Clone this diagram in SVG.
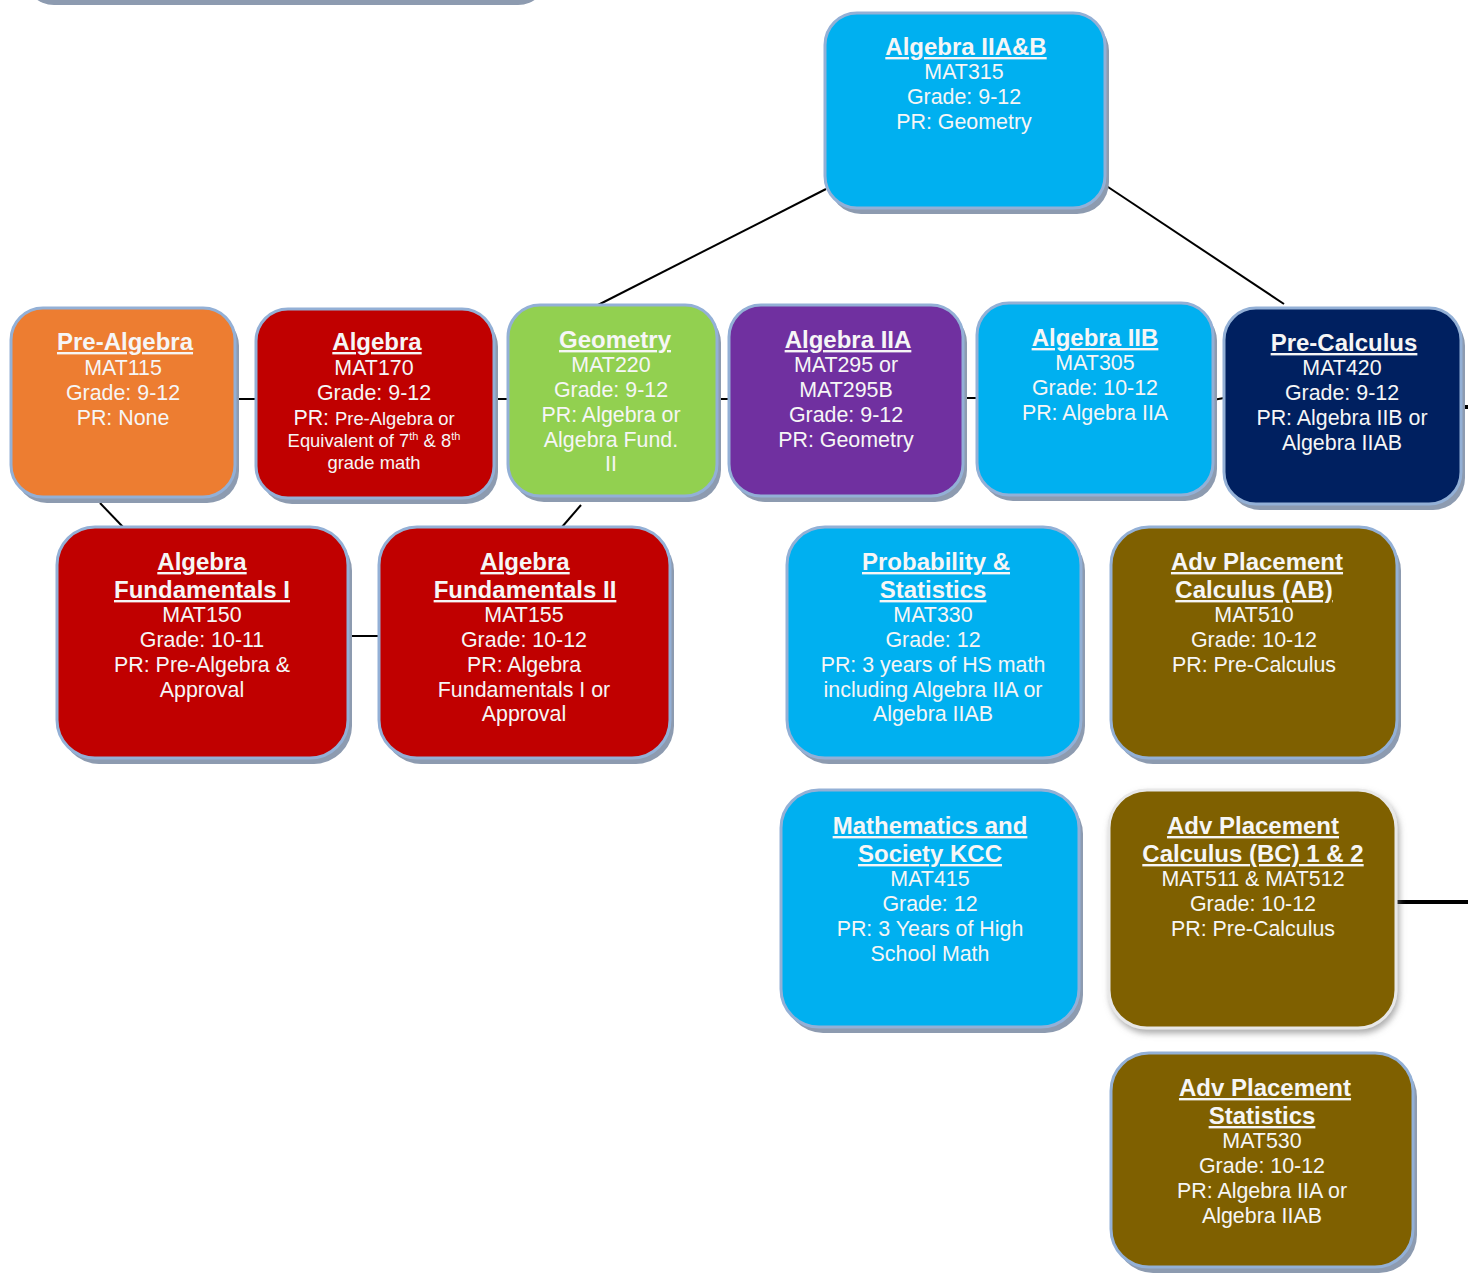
<svg xmlns="http://www.w3.org/2000/svg" width="1468" height="1273" viewBox="0 0 1468 1273">
<style>
text{font-family:"Liberation Sans",Arial,sans-serif;fill:#f6f6f6;text-anchor:middle}
.t{font-size:24px;font-weight:bold;text-decoration:underline}
.b{font-size:21.4px}
.s{font-size:18.4px}
.sh{fill:#8d9bb0}
.bx{stroke:#93b0d6;stroke-width:3}
.orange{fill:#ed7d31}.red{fill:#c00000}.green{fill:#92d050}.purple{fill:#7030a0}.cyan{fill:#00b0f0}.navy{fill:#002060}.olive{fill:#7f6000}
.ln{stroke:#000;stroke-width:2;fill:none}
.lnb{stroke:#000;stroke-width:4;fill:none}
</style>
<defs>
<filter id="soft" x="-10%" y="-10%" width="125%" height="125%">
<feDropShadow dx="2" dy="4" stdDeviation="3" flood-color="#777" flood-opacity="0.6"/>
</filter>
</defs>
<rect width="1468" height="1273" fill="#ffffff"/>

<g id="connectors">
<line class="ln" x1="826" y1="189" x2="596" y2="306"/>
<line class="ln" x1="1105" y1="185" x2="1284" y2="304"/>
<line class="ln" x1="235" y1="399" x2="256" y2="399"/>
<line class="ln" x1="494" y1="399" x2="508" y2="399"/>
<line class="ln" x1="717" y1="399" x2="729" y2="399"/>
<line class="ln" x1="963" y1="398" x2="977" y2="398"/>
<line class="ln" x1="1213" y1="400" x2="1224" y2="398"/>
<line class="lnb" x1="1461" y1="407" x2="1468" y2="407"/>
<line class="ln" x1="100" y1="503" x2="123" y2="527"/>
<line class="ln" x1="581" y1="505" x2="562" y2="527"/>
<line class="ln" x1="348" y1="636" x2="379" y2="636"/>
<line class="lnb" x1="1393" y1="902" x2="1468" y2="902"/>
</g>

<g id="partial-top">
<rect class="sh" x="24" y="-200" width="524" height="205" rx="30"/>
</g>

<g id="algebra-iiab">
<rect class="sh" x="829" y="19" width="280" height="195" rx="32"/>
<rect class="bx cyan" x="825" y="13" width="280" height="195" rx="32"/>
<text class="t" x="966" y="55">Algebra IIA&amp;B</text>
<text class="b" x="964" y="79">MAT315</text>
<text class="b" x="964" y="104">Grade: 9-12</text>
<text class="b" x="964" y="129">PR: Geometry</text>
</g>

<g id="pre-algebra">
<rect class="sh" x="15" y="314" width="224" height="189" rx="32"/>
<rect class="bx orange" x="11" y="308" width="224" height="189" rx="32"/>
<text class="t" x="125" y="350">Pre-Algebra</text>
<text class="b" x="123" y="375">MAT115</text>
<text class="b" x="123" y="400">Grade: 9-12</text>
<text class="b" x="123" y="425">PR: None</text>
</g>

<g id="algebra">
<rect class="sh" x="260" y="315" width="238" height="189" rx="32"/>
<rect class="bx red" x="256" y="309" width="238" height="189" rx="32"/>
<text class="t" x="377" y="350">Algebra</text>
<text class="b" x="374" y="375">MAT170</text>
<text class="b" x="374" y="400">Grade: 9-12</text>
<text x="374" y="425"><tspan class="b">PR: </tspan><tspan class="s">Pre-Algebra or</tspan></text>
<text class="s" x="374" y="447">Equivalent of 7<tspan font-size="11" dy="-7">th</tspan><tspan dy="7"> &amp; 8</tspan><tspan font-size="11" dy="-7">th</tspan></text>
<text class="s" x="374" y="469">grade math</text>
</g>

<g id="geometry">
<rect class="sh" x="512" y="311" width="209" height="191" rx="32"/>
<rect class="bx green" x="508" y="305" width="209" height="191" rx="32"/>
<text class="t" x="615" y="348">Geometry</text>
<text class="b" x="611" y="372">MAT220</text>
<text class="b" x="611" y="397">Grade: 9-12</text>
<text class="b" x="611" y="422">PR: Algebra or</text>
<text class="b" x="611" y="447">Algebra Fund.</text>
<text class="b" x="611" y="471">II</text>
</g>

<g id="algebra-iia">
<rect class="sh" x="733" y="311" width="234" height="191" rx="32"/>
<rect class="bx purple" x="729" y="305" width="234" height="191" rx="32"/>
<text class="t" x="848" y="348">Algebra IIA</text>
<text class="b" x="846" y="372">MAT295 or</text>
<text class="b" x="846" y="397">MAT295B</text>
<text class="b" x="846" y="422">Grade: 9-12</text>
<text class="b" x="846" y="447">PR: Geometry</text>
</g>

<g id="algebra-iib">
<rect class="sh" x="981" y="309" width="236" height="192" rx="32"/>
<rect class="bx cyan" x="977" y="303" width="236" height="192" rx="32"/>
<text class="t" x="1095" y="346">Algebra IIB</text>
<text class="b" x="1095" y="370">MAT305</text>
<text class="b" x="1095" y="395">Grade: 10-12</text>
<text class="b" x="1095" y="420">PR: Algebra IIA</text>
</g>

<g id="pre-calculus">
<rect class="sh" x="1228" y="314" width="237" height="196" rx="32"/>
<rect class="bx navy" x="1224" y="308" width="237" height="196" rx="32"/>
<text class="t" x="1344" y="351">Pre-Calculus</text>
<text class="b" x="1342" y="375">MAT420</text>
<text class="b" x="1342" y="400">Grade: 9-12</text>
<text class="b" x="1342" y="425">PR: Algebra IIB or</text>
<text class="b" x="1342" y="450">Algebra IIAB</text>
</g>

<g id="algebra-fund-i">
<rect class="sh" x="61" y="533" width="291" height="231" rx="38"/>
<rect class="bx red" x="57" y="527" width="291" height="231" rx="38"/>
<text class="t" x="202" y="570">Algebra</text>
<text class="t" x="202" y="598">Fundamentals I</text>
<text class="b" x="202" y="622">MAT150</text>
<text class="b" x="202" y="647">Grade: 10-11</text>
<text class="b" x="202" y="672">PR: Pre-Algebra &amp;</text>
<text class="b" x="202" y="697">Approval</text>
</g>

<g id="algebra-fund-ii">
<rect class="sh" x="383" y="533" width="291" height="231" rx="38"/>
<rect class="bx red" x="379" y="527" width="291" height="231" rx="38"/>
<text class="t" x="525" y="570">Algebra</text>
<text class="t" x="525" y="598">Fundamentals II</text>
<text class="b" x="524" y="622">MAT155</text>
<text class="b" x="524" y="647">Grade: 10-12</text>
<text class="b" x="524" y="672">PR: Algebra</text>
<text class="b" x="524" y="697">Fundamentals I or</text>
<text class="b" x="524" y="721">Approval</text>
</g>

<g id="prob-stats">
<rect class="sh" x="791" y="533" width="294" height="231" rx="38"/>
<rect class="bx cyan" x="787" y="527" width="294" height="231" rx="38"/>
<text class="t" x="936" y="570">Probability &amp;</text>
<text class="t" x="933" y="598">Statistics</text>
<text class="b" x="933" y="622">MAT330</text>
<text class="b" x="933" y="647">Grade: 12</text>
<text class="b" x="933" y="672">PR: 3 years of HS math</text>
<text class="b" x="933" y="697">including Algebra IIA or</text>
<text class="b" x="933" y="721">Algebra IIAB</text>
</g>

<g id="ap-calc-ab">
<rect class="sh" x="1115" y="533" width="286" height="231" rx="38"/>
<rect class="bx olive" x="1111" y="527" width="286" height="231" rx="38"/>
<text class="t" x="1257" y="570">Adv Placement</text>
<text class="t" x="1254" y="598">Calculus (AB)</text>
<text class="b" x="1254" y="622">MAT510</text>
<text class="b" x="1254" y="647">Grade: 10-12</text>
<text class="b" x="1254" y="672">PR: Pre-Calculus</text>
</g>

<g id="math-society">
<rect class="sh" x="785" y="796" width="298" height="237" rx="38"/>
<rect class="bx cyan" x="781" y="790" width="298" height="237" rx="38"/>
<text class="t" x="930" y="834">Mathematics and</text>
<text class="t" x="930" y="862">Society KCC</text>
<text class="b" x="930" y="886">MAT415</text>
<text class="b" x="930" y="911">Grade: 12</text>
<text class="b" x="930" y="936">PR: 3 Years of High</text>
<text class="b" x="930" y="961">School Math</text>
</g>

<g id="ap-calc-bc">
<rect class="olive" x="1109" y="790" width="287" height="238" rx="38" stroke="#e8e8e8" stroke-width="3" filter="url(#soft)"/>
<text class="t" x="1253" y="834">Adv Placement</text>
<text class="t" x="1253" y="862">Calculus (BC) 1 &amp; 2</text>
<text class="b" x="1253" y="886">MAT511 &amp; MAT512</text>
<text class="b" x="1253" y="911">Grade: 10-12</text>
<text class="b" x="1253" y="936">PR: Pre-Calculus</text>
</g>

<g id="ap-stats">
<rect class="sh" x="1115" y="1059" width="302" height="214" rx="38"/>
<rect class="bx olive" x="1111" y="1053" width="302" height="214" rx="38"/>
<text class="t" x="1265" y="1096">Adv Placement</text>
<text class="t" x="1262" y="1124">Statistics</text>
<text class="b" x="1262" y="1148">MAT530</text>
<text class="b" x="1262" y="1173">Grade: 10-12</text>
<text class="b" x="1262" y="1198">PR: Algebra IIA or</text>
<text class="b" x="1262" y="1223">Algebra IIAB</text>
</g>
</svg>
